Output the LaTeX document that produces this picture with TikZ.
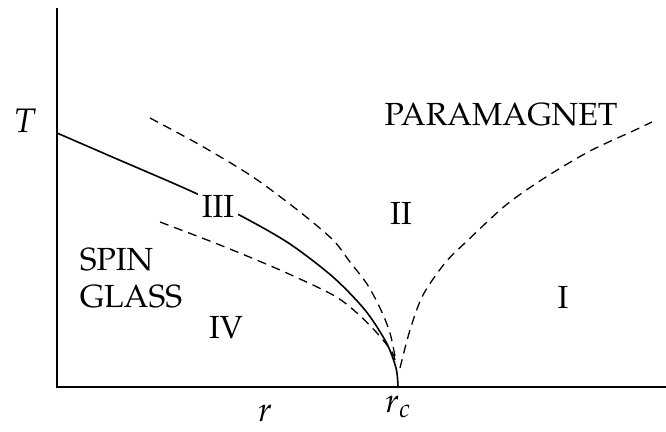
\documentclass[tikz,border=0pt]{standalone}
\usepackage[T1]{fontenc}
\usepackage{mathpazo}
\usetikzlibrary{positioning}
\tikzset{
    axisline/.style={line width=1.6pt},
    boundary/.style={line width=1.6pt},
    crossover/.style={line width=1.3pt, dash pattern=on 9pt off 6pt},
    region/.style={font=\fontsize{32}{37}\selectfont, inner sep=1pt},
    axislabel/.style={font=\fontsize{34}{40}\selectfont, inner sep=0pt}
}

\begin{document}
\begin{tikzpicture}[x=1pt, y=-1pt]
        \useasboundingbox (0,0) rectangle (666,431);

        % axes
        \coordinate (top) at (57,8);
        \coordinate (origin) at (57,387);
        \coordinate (right) at (666,387);
        \coordinate (rcpoint) at (398,387);
        \draw [axisline] (top) -- (origin) -- (right);

        % phase boundary
        \draw [boundary] plot [smooth] coordinates {(57,133) (110,156) (193,192) (245,218) (290,244) (333,277) (365,310) (386,342) (396,368) (rcpoint)};

        % crossover lines
        \draw [crossover] plot [smooth] coordinates {(150,118) (200,145) (253,177) (300,212) (333,240) (350,262) (367,284) (380,308) (390,333) (396,362)};
        \draw [crossover] plot [smooth] coordinates {(160,222) (220,245) (280,270) (333,295) (357,313) (377,333) (392,352) (396,364)};
        \draw [crossover] plot [smooth] coordinates {(400,368) (410,330) (423,295) (445,263) (466,242) (506,205) (546,177) (590,151) (633,131) (652,122)};

        % labels
        \node (tlabel) [axislabel] at (25,121) {$T$};
        \node (rlabel) [axislabel] at (265,413) {$r$};
        \node (rclabel) [axislabel, below=9pt of rcpoint] {$r_c$};
        \node (para) [region] at (501,115) {PARAMAGNET};
        \node (one) [region] at (563,297) {I};
        \node (two) [region] at (401,213) {II};
        \node (three) [region, fill=white, inner sep=4pt] at (218,206) {III};
        \node (four) [region] at (226,327) {IV};
        \node (spin) [region, align=left] at (131,278) {SPIN\\GLASS};
\end{tikzpicture}
\end{document}
